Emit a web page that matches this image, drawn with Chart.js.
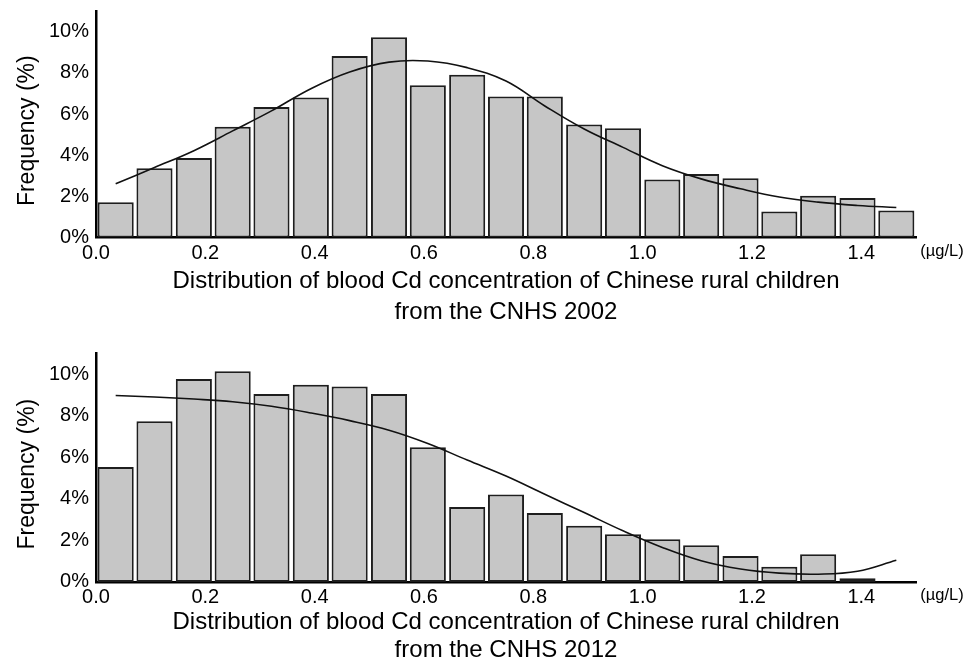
<!DOCTYPE html>
<html>
<head>
<meta charset="utf-8">
<script src="https://cdn.jsdelivr.net/npm/chart.js@4.4.1/dist/chart.umd.min.js"></script>
<style>
  html, body { margin: 0; padding: 0; background: #fff; }
  .box { position: relative; width: 976px; }
  #top { height: 330px; }
  #bottom { height: 335px; }
</style>
</head>
<body>
<div class="box" id="top"><canvas id="chart2002"></canvas></div>
<div class="box" id="bottom"><canvas id="chart2012"></canvas></div>
<script>
// bin centres (bin width 1/14 ug/L)
const binCenters = [0.036, 0.107, 0.179, 0.25, 0.321, 0.393, 0.464, 0.536, 0.607, 0.679, 0.75,
  0.821, 0.893, 0.964, 1.036, 1.107, 1.179, 1.25, 1.321, 1.393, 1.464];

// CNHS 2002 frequencies (%)
const freq2002 = [1.72, 3.37, 3.86, 5.38, 6.34, 6.8, 8.81, 9.72, 7.39, 7.91, 6.85,
  6.85, 5.49, 5.31, 2.82, 3.09, 2.88, 1.27, 2.03, 1.92, 1.32];
// fitted curve 2002
const curve2002 = [2.61, 3.4, 4.22, 5.18, 6.15, 7.23, 8.04, 8.52, 8.57, 8.25, 7.6,
  6.39, 5.27, 4.38, 3.49, 2.85, 2.37, 1.97, 1.72, 1.56, 1.46];

// CNHS 2012 frequencies (%)
const freq2012 = [5.53, 7.74, 9.78, 10.15, 9.05, 9.5, 9.42, 9.05, 6.49, 3.61,
  4.21, 3.32, 2.7, 2.3, 2.06, 1.77, 1.25, 0.73, 1.33, 0.18];
// fitted curve 2012
const curve2012 = [8.98, 8.91, 8.81, 8.68, 8.46, 8.14, 7.77, 7.31, 6.67, 5.87, 5.1,
  4.22, 3.34, 2.46, 1.66, 1.02, 0.62, 0.42, 0.37, 0.51, 1.04];

const xTicks = [0, 0.2, 0.4, 0.6, 0.8, 1.0, 1.2, 1.4];
const yTicks = [0, 2, 4, 6, 8, 10];
const unitLabel = "(\u00b5g/L)";

Chart.defaults.font.family = "'Liberation Sans', Arial, sans-serif";
Chart.defaults.color = "#000";

const unitPlugin = {
  id: "unit",
  afterDraw(chart) {
    const { ctx, chartArea } = chart;
    ctx.save();
    ctx.font = "16.5px 'Liberation Sans', Arial, sans-serif";
    ctx.fillStyle = "#000";
    ctx.textAlign = "center";
    ctx.textBaseline = "middle";
    ctx.fillText(unitLabel, chartArea.right + 26, chartArea.bottom + 13.5);
    ctx.restore();
  },
};

function makeChart(id, freq, curve, year, opt) {
  const bars = freq.map((v, i) => ({ x: binCenters[i], y: v }));
  const line = curve.map((v, i) => ({ x: binCenters[i], y: v }));
  return new Chart(document.getElementById(id), {
    type: "bar",
    data: {
      datasets: [
        {
          type: "line",
          data: line,
          borderColor: "#111",
          borderWidth: 1.6,
          pointRadius: 0,
          tension: 0.4,
          fill: false,
          order: 0,
        },
        {
          data: bars,
          backgroundColor: "#c6c6c6",
          borderColor: "#1e1e1e",
          borderWidth: 2,
          borderSkipped: false,
          barPercentage: 0.93,
          categoryPercentage: 1,
          order: 1,
        },
      ],
    },
    options: {
      responsive: true,
      maintainAspectRatio: false,
      animation: false,
      layout: { padding: { top: opt.top, right: 60, bottom: opt.bottom, left: 0 } },
      plugins: { legend: { display: false }, tooltip: { enabled: false } },
      scales: {
        x: {
          type: "linear",
          min: 0,
          max: 1.5,
          offset: false,
          grid: { display: false, drawTicks: false },
          border: { display: true, color: "#000", width: 2.5 },
          afterBuildTicks: (s) => { s.ticks = xTicks.map((v) => ({ value: v })); },
          ticks: {
            font: { size: 20, lineHeight: 1 },
            padding: opt.tickPad,
            maxRotation: 0,
            callback: (v) => Number(v).toFixed(1),
          },
          title: {
            display: true,
            text: [
              "Distribution of blood Cd concentration of Chinese rural children",
              "from the CNHS " + year,
            ],
            font: { size: 24, lineHeight: opt.titleLH },
            padding: { top: opt.titlePad, bottom: 0 },
          },
        },
        y: {
          min: 0,
          max: 11,
          grid: { display: false, drawTicks: false },
          border: { display: true, color: "#000", width: 2.5 },
          afterBuildTicks: (s) => { s.ticks = yTicks.map((v) => ({ value: v })); },
          afterFit: (s) => { s.width = 96; s.paddingTop = 0; s.paddingBottom = 0; },
          ticks: {
            font: { size: 20 },
            padding: 7,
            callback: (v) => v + "%",
          },
          title: {
            display: true,
            text: "Frequency (%)  ",
            font: { size: 23 },
            padding: { top: 13.5, bottom: 0 },
          },
        },
      },
    },
    plugins: [unitPlugin],
  });
}

makeChart("chart2002", freq2002, curve2002, "2002",
  { top: 11, bottom: 2, tickPad: 6, titlePad: -4, titleLH: 1.3 });
makeChart("chart2012", freq2012, curve2012, "2012",
  { top: 23.6, bottom: 0, tickPad: 6, titlePad: -6, titleLH: 1.19 });
</script>
</body>
</html>
